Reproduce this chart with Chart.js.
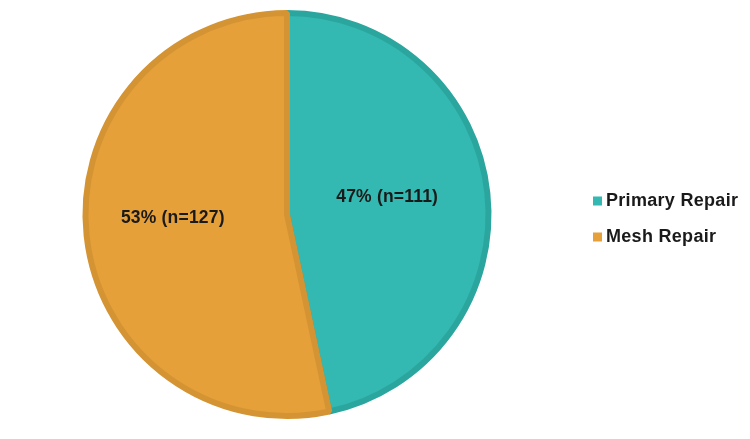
<!DOCTYPE html>
<html>
<head>
<meta charset="utf-8">
<script src="https://cdn.jsdelivr.net/npm/chart.js@4"></script>
<style>
  html, body { margin: 0; padding: 0; background: #fff; }
  #wrap { width: 750px; height: 439px; position: relative; }
</style>
</head>
<body>
<div id="wrap"><canvas id="pieChart"></canvas></div>
<script>
// Chart data
const categories = ['Primary Repair', 'Mesh Repair'];
const counts = [111, 127];
const percents = [47, 53];

const fillColors = ['#33B9B1', '#E6A03A'];
const borderColors = ['#2BA69E', '#D59433'];
// small nudges so labels sit where the original puts them
const labelNudge = [[0, 0], [-14, 0]];

// Draw "xx% (n=yy)" inside each slice
const sliceLabels = {
    id: 'sliceLabels',
    afterDatasetsDraw(chart) {
        const ctx = chart.ctx;
        const meta = chart.getDatasetMeta(0);
        ctx.save();
        ctx.font = 'bold 17.5px "Liberation Sans", Arial, sans-serif';
        ctx.letterSpacing = '0.2px';
        ctx.fillStyle = '#1a1a1a';
        ctx.textAlign = 'center';
        ctx.textBaseline = 'middle';
        meta.data.forEach((arc, i) => {
            const mid = (arc.startAngle + arc.endAngle) / 2;
            const r = arc.outerRadius * 0.5;
            const x = arc.x + Math.cos(mid) * r + labelNudge[i][0];
            const y = arc.y + Math.sin(mid) * r - 7 + labelNudge[i][1];
            ctx.fillText(`${percents[i]}% (n=${counts[i]})`, x, y);
        });
        ctx.restore();
    }
};

// Legend on the right
const sideLegend = {
    id: 'sideLegend',
    afterDraw(chart) {
        const ctx = chart.ctx;
        ctx.save();
        ctx.font = 'bold 18px "Liberation Sans", Arial, sans-serif';
        ctx.letterSpacing = '0.3px';
        ctx.textBaseline = 'middle';
        categories.forEach((name, i) => {
            const y = 201 + i * 36;
            ctx.fillStyle = fillColors[i];
            ctx.fillRect(593, y - 4.5, 9, 9);
            ctx.fillStyle = '#1a1a1a';
            ctx.fillText(name, 606, y);
        });
        ctx.restore();
    }
};

const ctx = document.getElementById('pieChart').getContext('2d');
new Chart(ctx, {
    type: 'pie',
    data: {
        labels: categories,
        datasets: [{
            data: counts,
            backgroundColor: fillColors,
            borderColor: borderColors,
            borderWidth: 6
        }]
    },
    options: {
        responsive: true,
        maintainAspectRatio: false,
        animation: false,
        layout: { padding: { left: 82, right: 258, top: 10, bottom: 20 } },
        plugins: {
            legend: { display: false },
            tooltip: { enabled: false }
        }
    },
    plugins: [sliceLabels, sideLegend]
});
</script>
</body>
</html>
